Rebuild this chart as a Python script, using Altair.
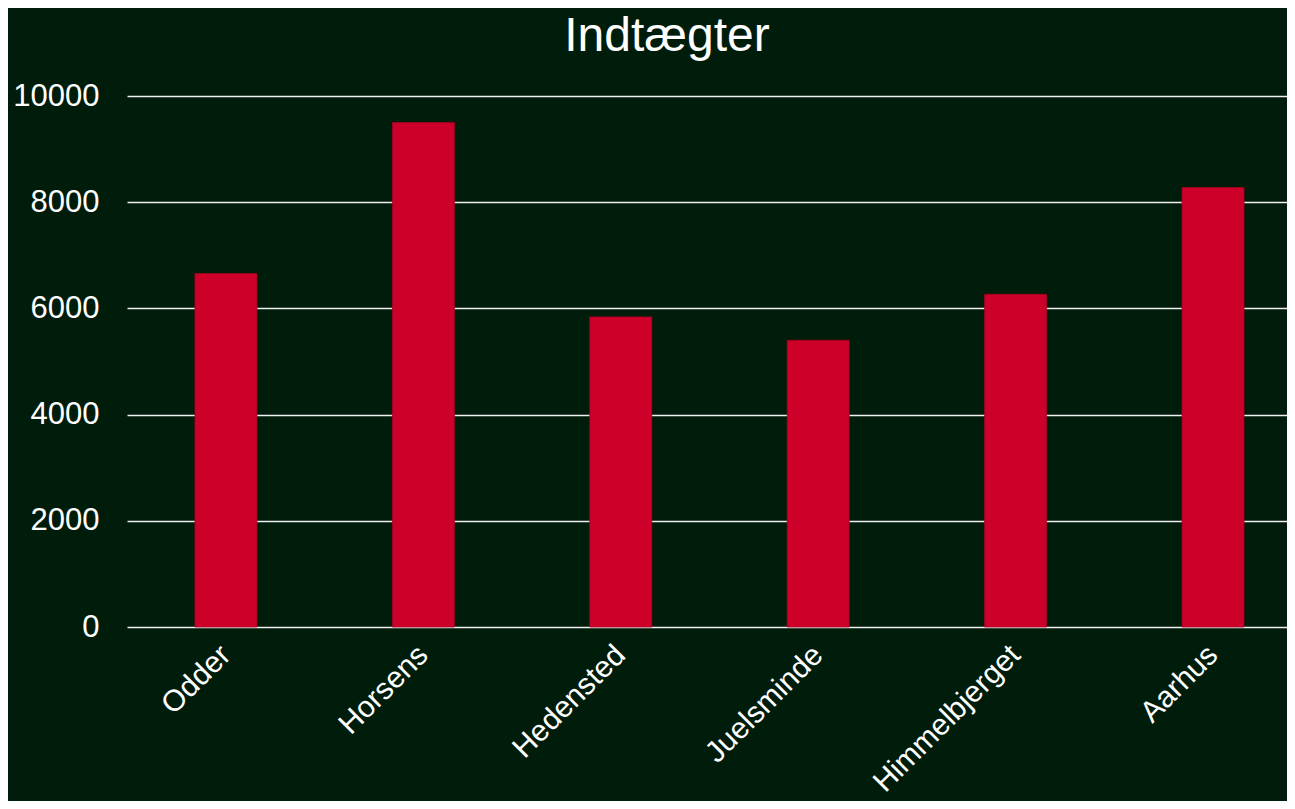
import altair as alt
import pandas as pd

categories = ["Odder", "Horsens", "Hedensted", "Juelsminde", "Himmelbjerget", "Aarhus"]
values = [6655, 9500, 5840, 5400, 6265, 8275]
y_ticks = [0, 2000, 4000, 6000, 8000, 10000]

df = pd.DataFrame({"by": categories, "indtaegter": values})

bg = "#001c0b"
font = "Liberation Sans"

chart = (
    alt.Chart(df)
    .mark_bar(color="#cc0029", stroke="#a8001f", strokeWidth=0.8)
    .encode(
        x=alt.X(
            "by:N",
            sort=categories,
            title=None,
            scale=alt.Scale(paddingInner=0.686, paddingOuter=0.281, align=0.6126),
            axis=alt.Axis(
                labelAngle=-45,
                labelAlign="right",
                labelBaseline="middle",
                labelFontSize=30,
                labelFont=font,
                labelColor="white",
                labelPadding=23,
                labelOverlap=False,
                labelLimit=0,
                domain=False,
                ticks=False,
                grid=False,
            ),
        ),
        y=alt.Y(
            "indtaegter:Q",
            title=None,
            scale=alt.Scale(domain=[0, 10000], nice=False),
            axis=alt.Axis(
                values=y_ticks,
                format="d",
                labelFontSize=31,
                labelFont=font,
                labelColor="white",
                labelPadding=28,
                domain=False,
                ticks=False,
                grid=True,
                gridColor="#f0f0f0",
                gridWidth=1.4,
                gridOpacity=1,
            ),
        ),
    )
    .properties(
        width=1160,
        height=531,
        background=bg,
        padding={"left": 119, "top": 88, "right": 0, "bottom": 174},
        autosize=alt.AutoSizeParams(type="none"),
        title=alt.TitleParams(
            "Indtægter",
            fontSize=48,
            font=font,
            fontWeight="normal",
            color="white",
            anchor="middle",
            dx=-40,
            offset=19,
        ),
    )
    .configure_view(stroke=None, fill=bg)
)

chart.save("out.html", embed_options={"renderer": "svg", "actions": False})
